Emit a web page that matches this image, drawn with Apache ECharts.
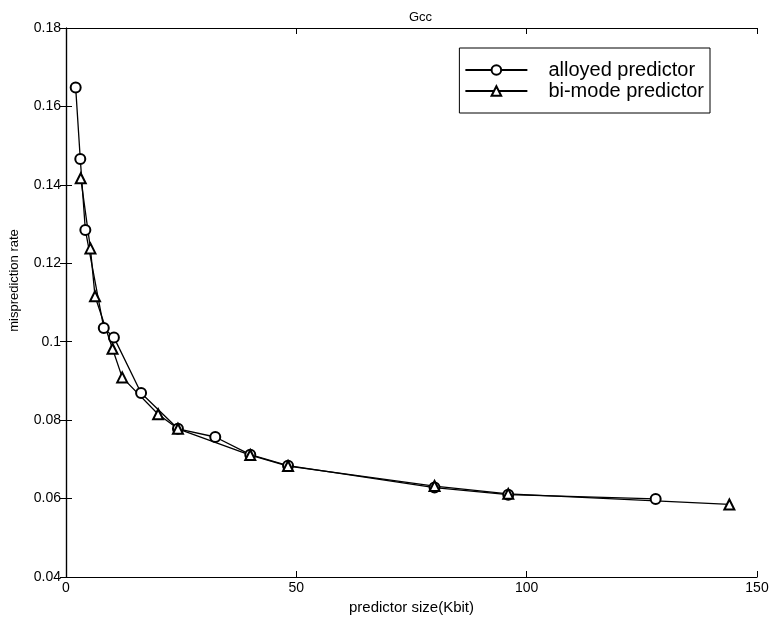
<!DOCTYPE html>
<html>
<head>
<meta charset="utf-8">
<script src="https://cdn.jsdelivr.net/npm/echarts@6/dist/echarts.min.js"></script>
<style>
  html, body { margin: 0; padding: 0; background: #fff; }
  #chart { width: 772px; height: 620px; }
</style>
</head>
<body>
<div id="chart"></div>
<script>
// 预测器大小 (Kbit) 与误预测率
const alloyedSize = [2.1, 3.1, 4.2, 8.2, 10.4, 16.3, 24.3, 32.4, 40, 48.2, 80, 96, 128]
const alloyedRate = [0.1648, 0.1466, 0.1285, 0.1035, 0.1011, 0.0869, 0.0778, 0.0757, 0.0712, 0.0684, 0.0628, 0.0610, 0.0599]
const bimodeSize = [3.2, 5.3, 6.3, 10.1, 12.2, 20, 24.3, 40, 48.2, 80, 96, 144]
const bimodeRate = [0.1417, 0.1238, 0.1116, 0.0982, 0.0909, 0.0815, 0.0778, 0.0711, 0.0683, 0.0632, 0.0612, 0.0585]
const xTicks = [0, 50, 100, 150]
const yTicks = [0.04, 0.06, 0.08, 0.1, 0.12, 0.14, 0.16, 0.18]

const font = 'Liberation Sans, Arial, sans-serif'
const pairs = (xs, ys) => xs.map((x, i) => [x, ys[i]])

const baseX = {
  type: 'value', min: xTicks[0], max: xTicks[xTicks.length - 1], interval: 50,
  axisLine: { show: true, lineStyle: { color: '#000', width: 1.2 } },
  axisTick: { show: true, inside: true, length: 6, lineStyle: { color: '#000' } },
  splitLine: { show: false }
}
const baseY = {
  type: 'value', min: yTicks[0], max: yTicks[yTicks.length - 1], interval: 0.02,
  axisLine: { show: true, lineStyle: { color: '#000', width: 1.2 } },
  axisTick: { show: true, inside: true, length: 6, lineStyle: { color: '#000' } },
  splitLine: { show: false }
}

const myChart = echarts.init(document.getElementById('chart'))
const option = {
  backgroundColor: '#fff',
  animation: false,
  title: {
    text: 'Gcc', left: 404, top: 6,
    textStyle: { fontFamily: font, fontSize: 13, fontWeight: 'normal', color: '#000' }
  },
  legend: {
    orient: 'vertical', right: 62, top: 48,
    padding: [12, 6, 12, 5], itemGap: 1, itemWidth: 62, itemHeight: 12,
    borderColor: '#000', borderWidth: 1, backgroundColor: '#fff',
    textStyle: { fontFamily: font, fontSize: 20, color: '#000', padding: [0, 0, 0, 16] },
    data: ['alloyed predictor', 'bi-mode predictor']
  },
  grid: { left: 62, right: 15, top: 28, bottom: 43 },
  xAxis: [
    Object.assign({}, baseX, {
      position: 'bottom',
      name: 'predictor size(Kbit)', nameLocation: 'middle', nameGap: 22,
      nameTextStyle: { fontFamily: font, fontSize: 15, color: '#000' },
      axisLabel: { fontFamily: font, fontSize: 14, color: '#000', margin: 4 }
    }),
    Object.assign({}, baseX, { position: 'top', axisLabel: { show: false } })
  ],
  yAxis: [
    Object.assign({}, baseY, {
      position: 'left',
      name: 'misprediction rate', nameLocation: 'middle', nameGap: 45,
      nameTextStyle: { fontFamily: font, fontSize: 13, color: '#000', padding: [0, 0, 0, 44] },
      axisLabel: {
        fontFamily: font, fontSize: 14, color: '#000', margin: 5,
        formatter: (v) => String(parseFloat(v.toFixed(2)))
      }
    }),
    Object.assign({}, baseY, { position: 'right', axisLabel: { show: false } })
  ],
  series: [
    {
      name: 'alloyed predictor', type: 'line', data: pairs(alloyedSize, alloyedRate),
      symbol: 'emptyCircle', symbolSize: 10,
      lineStyle: { color: '#000', width: 1.3 },
      itemStyle: { color: '#000', borderWidth: 1.3 }
    },
    {
      name: 'bi-mode predictor', type: 'line', data: pairs(bimodeSize, bimodeRate),
      symbol: 'emptyTriangle', symbolSize: 10,
      lineStyle: { color: '#000', width: 1.3 },
      itemStyle: { color: '#000', borderWidth: 1.3 }
    }
  ]
}
myChart.setOption(option, true)
</script>
</body>
</html>
